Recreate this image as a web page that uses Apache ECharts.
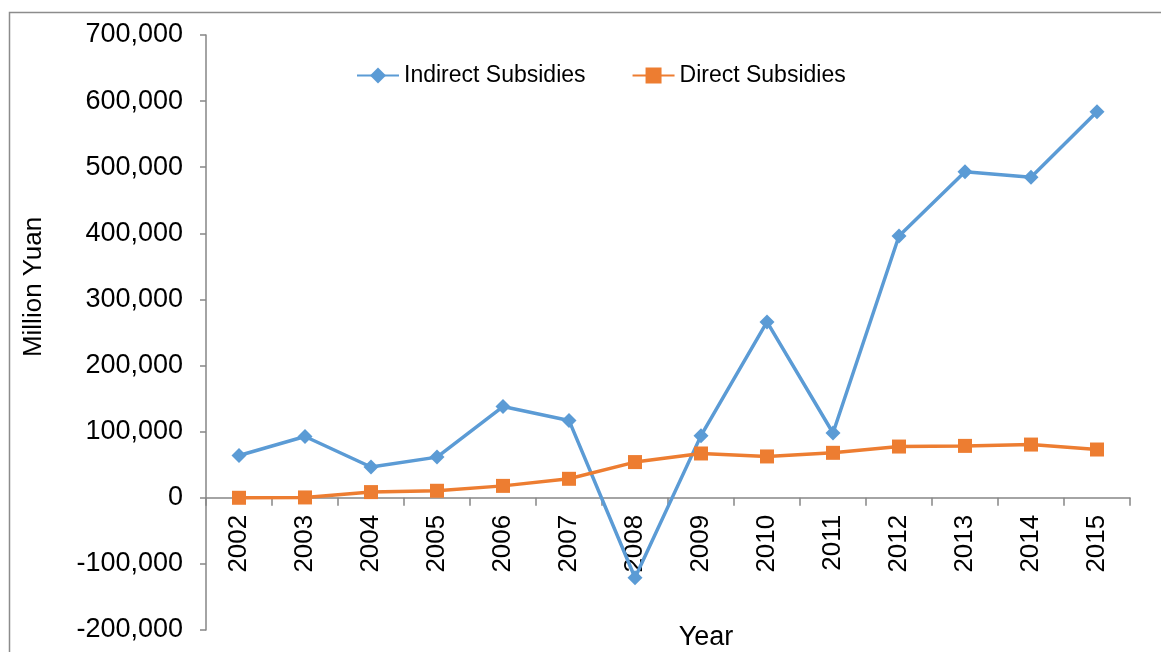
<!DOCTYPE html>
<html>
<head>
<meta charset="utf-8">
<script src="https://cdn.jsdelivr.net/npm/echarts@6/dist/echarts.min.js"></script>
<style>
html,body{margin:0;padding:0;background:#fff;}
#chart{width:1161px;height:652px;}
</style>
</head>
<body>
<div id="chart"></div>
<script>
var years = ['2002','2003','2004','2005','2006','2007','2008','2009','2010','2011','2012','2013','2014','2015'];
var indirectSubsidies = [64000, 92700, 46500, 61500, 138000, 117000, -121000, 94000, 266000, 98000, 396000, 493000, 485000, 584000];
var directSubsidies = [0, 500, 8600, 10600, 18000, 28700, 54000, 67000, 62500, 68000, 77500, 78500, 80500, 73000];
var yTicks = {min: -200000, max: 700000, interval: 100000};

var FONT = "'Liberation Sans', Arial, sans-serif";
var GRID = {left: 206, right: 31, top: 35, bottom: 22};
var plotH = 652 - GRID.top - GRID.bottom;
// move category axis up to the zero line
var zeroOffset = plotH * (0 - yTicks.min) / (yTicks.max - yTicks.min);

var chart = echarts.init(document.getElementById('chart'));
chart.setOption({
  animation: false,
  backgroundColor: '#fff',
  textStyle: {fontFamily: FONT},
  grid: {left: GRID.left, right: GRID.right, top: GRID.top, bottom: GRID.bottom, containLabel: false, outerBoundsMode: 'none'},
  legend: {
    left: 351, top: 59, itemWidth: 42, itemHeight: 20, itemGap: 46,
    textStyle: {fontSize: 23, color: '#000', fontFamily: FONT},
    data: ['Indirect Subsidies', 'Direct Subsidies']
  },
  xAxis: {
    type: 'category',
    data: years,
    boundaryGap: true,
    offset: -zeroOffset,
    axisLine: {onZero: false, lineStyle: {color: '#868686', width: 1.5}},
    axisTick: {show: true, alignWithLabel: false, length: 8, lineStyle: {color: '#868686', width: 1.5}},
    axisLabel: {rotate: 90, margin: 17, fontSize: 26, color: '#000', fontFamily: FONT},
    splitLine: {show: false}
  },
  yAxis: {
    type: 'value',
    min: yTicks.min, max: yTicks.max, interval: yTicks.interval,
    axisLine: {show: true, lineStyle: {color: '#868686', width: 1.5}},
    axisTick: {show: true, length: 6, lineStyle: {color: '#868686', width: 1.5}},
    axisLabel: {
      margin: 23, fontSize: 27, color: '#000', fontFamily: FONT,
      formatter: function (v) { return v.toLocaleString('en-US'); }
    },
    splitLine: {show: false}
  },
  graphic: [
    {type: 'rect', shape: {x: 9.5, y: 12.5, width: 1300, height: 800}, style: {fill: 'none', stroke: '#8c8c8c', lineWidth: 1.5}, z: -1},
    {type: 'text', x: 34, y: 287, rotation: Math.PI / 2,
     style: {text: 'Million Yuan', fontSize: 26, fill: '#000', fontFamily: FONT, align: 'center', verticalAlign: 'middle'}},
    {type: 'text', x: 706, y: 638,
     style: {text: 'Year', fontSize: 27, fill: '#000', fontFamily: FONT, align: 'center', verticalAlign: 'middle'}}
  ],
  series: [
    {
      name: 'Indirect Subsidies', type: 'line', data: indirectSubsidies,
      symbol: 'diamond', symbolSize: 15,
      lineStyle: {color: '#5B9BD5', width: 3.5},
      itemStyle: {color: '#5B9BD5'}
    },
    {
      name: 'Direct Subsidies', type: 'line', data: directSubsidies,
      symbol: 'rect', symbolSize: 14,
      lineStyle: {color: '#ED7D31', width: 3.5},
      itemStyle: {color: '#ED7D31'}
    }
  ]
});
</script>
</body>
</html>
